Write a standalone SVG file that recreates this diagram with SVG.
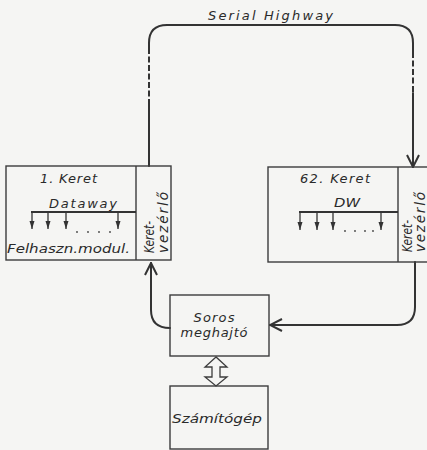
<svg xmlns="http://www.w3.org/2000/svg" width="427" height="450" viewBox="0 0 427 450">
<defs>
<style>
.box{fill:none;stroke:#3c3c3c;stroke-width:1.4}
.wire{fill:none;stroke:#333;stroke-width:2;stroke-linecap:round}
.dash{fill:none;stroke:#333;stroke-width:2;stroke-dasharray:6 2.5}
.bus{fill:none;stroke:#333;stroke-width:2}
.tap{fill:none;stroke:#333;stroke-width:1.3;marker-end:url(#tiny)}
.t{font-family:"DejaVu Sans","Liberation Sans",sans-serif;font-style:italic;font-size:13px;fill:#2a2a2a}
.r{font-size:13.5px}
.dot{fill:#444}
</style>
<marker id="open" viewBox="0 0 14 14" refX="13" refY="7" markerWidth="14" markerHeight="14" markerUnits="userSpaceOnUse" orient="auto">
<path d="M1,1 L13,7 L1,13" fill="none" stroke="#333" stroke-width="2" stroke-linejoin="miter"/>
</marker>
<marker id="tiny" viewBox="0 0 8 6" refX="8" refY="3" markerWidth="8" markerHeight="6" markerUnits="userSpaceOnUse" orient="auto">
<path d="M0,0.5 L8,3 L0,5.5 Z" fill="#333"/>
</marker>
</defs>
<rect width="427" height="450" fill="#f5f5f3"/>

<g id="connectors">
<path class="wire" d="M149,166 V105"/>
<path class="dash" d="M149,105 V52"/>
<path class="wire" d="M149,52 V43 Q149,25 167,25 H395 Q413,25 413,43 V52"/>
<path class="dash" d="M413,52 V93"/>
<path class="wire" d="M413,93 V167" marker-end="url(#open)"/>
<text class="t" x="208" y="20" textLength="125" lengthAdjust="spacing">Serial Highway</text>
<path class="wire" d="M415,262 V307 Q415,325 397,325 H270" marker-end="url(#open)"/>
<path class="wire" d="M170,328 Q151,328 151,310 V263" marker-end="url(#open)"/>
<polygon points="216,357 205,367 212,367 212,377 205,377 216,386 227,377 220,377 220,367 227,367" fill="#f5f5f3" stroke="#3c3c3c" stroke-width="1.3" stroke-linejoin="miter"/>
</g>

<g id="frame1">
<rect class="box" x="6" y="166" width="165" height="94"/>
<line class="box" x1="136" y1="166" x2="136" y2="260"/>
<text class="t" x="40" y="183" textLength="57" lengthAdjust="spacing">1. Keret</text>
<text class="t" x="49" y="208" textLength="68" lengthAdjust="spacing">Dataway</text>
<line class="bus" x1="31" y1="212" x2="136" y2="212"/>
<line class="tap" x1="32" y1="212" x2="32" y2="229"/>
<line class="tap" x1="48" y1="212" x2="48" y2="229"/>
<line class="tap" x1="66" y1="212" x2="66" y2="229"/>
<line class="tap" x1="118" y1="212" x2="118" y2="229"/>
<circle class="dot" cx="77" cy="232" r="0.9"/>
<circle class="dot" cx="88" cy="232" r="0.9"/>
<circle class="dot" cx="99" cy="232" r="0.9"/>
<circle class="dot" cx="110" cy="232" r="0.9"/>
<text class="t" x="7" y="253" textLength="123" lengthAdjust="spacingAndGlyphs">Felhaszn.modul.</text>
<text class="t r" transform="translate(154,253) rotate(-90)" textLength="32" lengthAdjust="spacingAndGlyphs">Keret-</text>
<text class="t r" transform="translate(168,253) rotate(-90)" textLength="61" lengthAdjust="spacing">vezérlő</text>
</g>

<g id="frame62">
<rect class="box" x="268" y="167" width="165" height="95"/>
<line class="box" x1="398" y1="167" x2="398" y2="262"/>
<text class="t" x="300" y="183" textLength="70" lengthAdjust="spacing">62. Keret</text>
<text class="t" x="334" y="207" textLength="26" lengthAdjust="spacingAndGlyphs">DW</text>
<line class="bus" x1="299" y1="212" x2="398" y2="212"/>
<line class="tap" x1="300" y1="212" x2="300" y2="230"/>
<line class="tap" x1="317" y1="212" x2="317" y2="230"/>
<line class="tap" x1="333" y1="212" x2="333" y2="230"/>
<line class="tap" x1="381" y1="212" x2="381" y2="230"/>
<circle class="dot" cx="345" cy="231" r="0.9"/>
<circle class="dot" cx="355" cy="231" r="0.9"/>
<circle class="dot" cx="365" cy="231" r="0.9"/>
<circle class="dot" cx="373" cy="231" r="0.9"/>
<text class="t r" transform="translate(412,252) rotate(-90)" textLength="32" lengthAdjust="spacingAndGlyphs">Keret-</text>
<text class="t r" transform="translate(425,252) rotate(-90)" textLength="60" lengthAdjust="spacing">vezérlő</text>
</g>

<g id="soros">
<rect class="box" x="170" y="295" width="99" height="61"/>
<text class="t" x="214" y="322" text-anchor="middle" textLength="41" lengthAdjust="spacing">Soros</text>
<text class="t" x="214" y="337" text-anchor="middle" textLength="67" lengthAdjust="spacing">meghajtó</text>
</g>

<g id="szamitogep">
<rect class="box" x="170" y="386" width="98" height="63"/>
<text class="t" x="172" y="423" textLength="90" lengthAdjust="spacingAndGlyphs">Számítógép</text>
</g>
</svg>
